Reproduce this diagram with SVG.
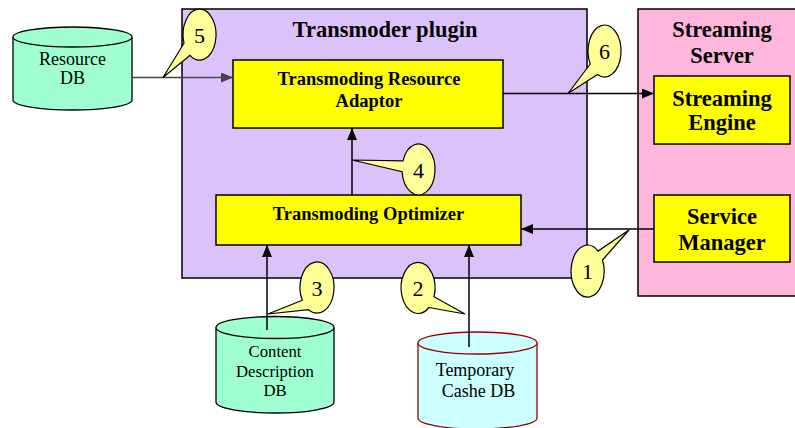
<svg xmlns="http://www.w3.org/2000/svg" width="795" height="428" viewBox="0 0 795 428">
  <defs>
    <marker id="arrow" viewBox="0 0 12 10" refX="12" refY="5" markerWidth="12" markerHeight="10" markerUnits="userSpaceOnUse" orient="auto">
      <path d="M0,0 L12,5 L0,10 Z" fill="#000"/>
    </marker>
    <marker id="arrow-grey" viewBox="0 0 12 10" refX="12" refY="5" markerWidth="12" markerHeight="10" markerUnits="userSpaceOnUse" orient="auto">
      <path d="M0,0 L12,5 L0,10 Z" fill="#444"/>
    </marker>
  </defs>
  <style>
    .container { stroke: #000; stroke-width: 1.5; }
    .box { fill: #ffff00; stroke: #000; stroke-width: 1.5; }
    .db { fill: #9fffd0; stroke: #000; stroke-width: 1.3; }
    .db-temp { fill: #ccffff; stroke: #990000; stroke-width: 1.3; }
    .callout { fill: #ffff99; stroke: #000; stroke-width: 1.2; }
    .conn { fill: none; stroke: #000; stroke-width: 1.5; }
    .title { font-family: "Liberation Serif", "Times New Roman", serif; font-weight: bold; font-size: 22.5px; text-anchor: middle; fill: #000; }
    .label { font-family: "Liberation Serif", "Times New Roman", serif; font-weight: bold; font-size: 18.5px; text-anchor: middle; fill: #000; }
    .dbtext { font-family: "Liberation Serif", "Times New Roman", serif; font-size: 18px; text-anchor: middle; fill: #000; }
    .num { font-family: "Liberation Serif", "Times New Roman", serif; font-size: 22px; text-anchor: middle; fill: #000; }
  </style>

  <!-- containers -->
  <g id="transmoder-plugin">
    <rect class="container" x="182" y="9" width="405" height="269" fill="#dcc2fb"/>
    <text class="title" x="385" y="37">Transmoder plugin</text>
  </g>
  <g id="streaming-server">
    <rect class="container" x="638" y="9" width="162" height="287" fill="#ffb6dc"/>
    <text class="title" x="722" y="37">Streaming</text>
    <text class="title" x="722" y="63">Server</text>
  </g>

  <!-- inner components -->
  <g id="resource-adaptor">
    <rect class="box" x="233" y="60" width="270" height="68"/>
    <text class="label" x="369" y="85">Transmoding Resource</text>
    <text class="label" x="369" y="107">Adaptor</text>
  </g>
  <g id="optimizer">
    <rect class="box" x="216" y="195" width="305" height="50"/>
    <text class="label" x="368.5" y="220">Transmoding Optimizer</text>
  </g>
  <g id="streaming-engine">
    <rect class="box" x="654" y="76" width="136" height="68"/>
    <text class="title" x="722" y="106">Streaming</text>
    <text class="title" x="722" y="130">Engine</text>
  </g>
  <g id="service-manager">
    <rect class="box" x="654" y="195" width="136" height="67"/>
    <text class="title" x="722" y="224">Service</text>
    <text class="title" x="722" y="250">Manager</text>
  </g>

  <!-- databases -->
  <g id="resource-db">
    <path class="db" d="M13,37 V100 A59.5,10 0 0 0 132,100 V37"/>
    <ellipse class="db" cx="72.5" cy="37" rx="59.5" ry="10"/>
    <text class="dbtext" x="72.5" y="65">Resource</text>
    <text class="dbtext" x="72.5" y="84">DB</text>
  </g>
  <g id="content-description-db">
    <path class="db" d="M216,327.5 V402 A59,11 0 0 0 334,402 V327.5"/>
    <ellipse class="db" cx="275" cy="327.5" rx="59" ry="11"/>
    <text class="dbtext" x="275" y="357" style="font-size:16.7px">Content</text>
    <text class="dbtext" x="275" y="376.5" style="font-size:16.7px">Description</text>
    <text class="dbtext" x="275" y="396" style="font-size:16.7px">DB</text>
  </g>
  <g id="temporary-cache-db">
    <path class="db-temp" d="M418,343 V418 A59.5,11 0 0 0 537,418 V343"/>
    <ellipse class="db-temp" cx="477.5" cy="343" rx="59.5" ry="11"/>
    <text class="dbtext" x="475" y="376">Temporary</text>
    <text class="dbtext" x="478.5" y="397">Cashe DB</text>
  </g>

  <!-- connectors -->
  <g id="connectors">
    <line class="conn" x1="132" y1="77.5" x2="233" y2="77.5" stroke="#444" style="stroke:#444" marker-end="url(#arrow-grey)"/>
    <line class="conn" x1="503" y1="93.5" x2="654" y2="93.5" marker-end="url(#arrow)"/>
    <line class="conn" x1="352" y1="195" x2="352" y2="128" marker-end="url(#arrow)"/>
    <line class="conn" x1="267" y1="330" x2="267" y2="245" marker-end="url(#arrow)"/>
    <line class="conn" x1="469" y1="347" x2="469" y2="245" marker-end="url(#arrow)"/>
    <line class="conn" x1="654" y1="229" x2="521" y2="229" marker-end="url(#arrow)"/>
  </g>

  <!-- step callouts -->
  <g id="callout-5">
    <path class="callout" d="M184,43.2 L163,77.5 L190,55.4 A16.5,25.5 0 1 0 184,43.2 Z"/>
    <text class="num" x="199.5" y="43">5</text>
  </g>
  <g id="callout-6">
    <path class="callout" d="M590.2,64 L568,93.5 L597.5,74.6 A16.5,26 0 1 0 590.2,64 Z"/>
    <text class="num" x="604.5" y="59">6</text>
  </g>
  <g id="callout-4">
    <path class="callout" d="M403,160.8 L352,160 L402.1,171.7 A16.5,25.5 0 1 0 403,160.8 Z"/>
    <text class="num" x="418.5" y="177.5">4</text>
  </g>
  <g id="callout-3">
    <path class="callout" d="M302.3,300.3 L268,314 L308.5,309.6 A17,25.5 0 1 0 302.3,300.3 Z"/>
    <text class="num" x="317" y="295.5">3</text>
  </g>
  <g id="callout-2">
    <path class="callout" d="M428.9,307.5 L465,314 L434,296.7 A17,25.5 0 1 0 428.9,307.5 Z"/>
    <text class="num" x="418" y="296">2</text>
  </g>
  <g id="callout-1">
    <path class="callout" d="M602.5,260 L629,230 L598.1,251.1 A16.5,26 0 1 0 602.5,260 Z"/>
    <text class="num" x="587.5" y="279">1</text>
  </g>
</svg>
